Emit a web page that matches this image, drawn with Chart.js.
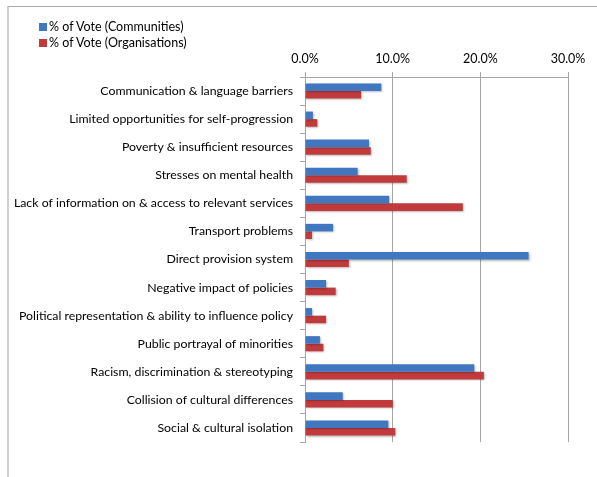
<!DOCTYPE html>
<html>
<head>
<meta charset="utf-8">
<script src="https://cdn.jsdelivr.net/npm/chart.js@4.4.1/dist/chart.umd.min.js"></script>
<style>
  html, body { margin: 0; padding: 0; background: #fff; }
  #wrap { position: relative; width: 597px; height: 477px; overflow: hidden; }
  #frame { position: absolute; left: 7px; top: 6px; right: -2px; bottom: -2px;
           border-left: 2px solid #cfcfcf; border-top: 1px solid #a9a9a9; }
  canvas { position: absolute; left: 0; top: 0; }
  #legend { position: absolute; left: 39px; top: 19px; font-family: Lato, sans-serif;
            font-size: 12.5px; color: #000; line-height: 16px; }
  #legend .item { display: flex; align-items: center; white-space: nowrap; }
  #legend .box { width: 8px; height: 8px; margin-right: 2px; display: inline-block; }
</style>
</head>
<body>
<div id="wrap">
  <div id="frame"></div>
  <canvas id="chart" width="597" height="477"></canvas>
  <div id="legend"></div>
</div>
<script>
const categories = [
  'Communication & language barriers',
  'Limited opportunities for self-progression',
  'Poverty & insufficient resources',
  'Stresses on mental health',
  'Lack of information on & access to relevant services',
  'Transport problems',
  'Direct provision system',
  'Negative impact of policies',
  'Political representation & ability to influence policy',
  'Public portrayal of minorities',
  'Racism, discrimination & stereotyping',
  'Collision of cultural differences',
  'Social & cultural isolation'
];
const seriesNames = ['% of Vote (Communities)', '% of Vote (Organisations)'];
const communities   = [8.7, 0.9, 7.3, 6.0, 9.6, 3.2, 25.5, 2.4, 0.8, 1.7, 19.3, 4.3, 9.5];
const organisations = [6.4, 1.4, 7.5, 11.6, 18.0, 0.8, 5.0, 3.5, 2.4, 2.1, 20.4, 10.0, 10.3];
const xTicks = [0, 10, 20, 30];

const GRID = '#a6a6a6';

// soft drop shadow under the bars
const barShadow = {
  id: 'barShadow',
  beforeDatasetsDraw(chart) {
    const c = chart.ctx;
    c.save();
    c.shadowColor = 'rgba(0,0,0,0.28)';
    c.shadowBlur = 2;
    c.shadowOffsetX = 1;
    c.shadowOffsetY = 1;
  },
  afterDatasetsDraw(chart) { chart.ctx.restore(); }
};

const chart = new Chart(document.getElementById('chart'), {
  type: 'bar',
  data: {
    labels: categories,
    datasets: [
      { label: seriesNames[0], data: communities, backgroundColor: '#4177c1' },
      { label: seriesNames[1], data: organisations, backgroundColor: '#c13b3d' }
    ]
  },
  options: {
    indexAxis: 'y',
    responsive: false,
    animation: false,
    layout: { padding: { left: 0, top: 0, right: 29, bottom: 35 } },
    datasets: { bar: { categoryPercentage: 0.54, barPercentage: 1.0 } },
    plugins: { legend: { display: false }, tooltip: { enabled: false } },
    scales: {
      x: {
        position: 'top',
        min: 0, max: 30,
        afterBuildTicks(scale) { scale.ticks = xTicks.map(v => ({ value: v })); },
        ticks: {
          font: { family: 'Lato, sans-serif', size: 12.5 }, color: '#000', padding: 6,
          callback: v => v.toFixed(1) + '%'
        },
        grid: { color: GRID, tickLength: 5, drawTicks: true },
        border: { color: GRID },
        afterFit(scale) { scale.height = 77; }
      },
      y: {
        ticks: { font: { family: 'Lato, sans-serif', size: 12.3 }, color: '#000', padding: 7, autoSkip: false },
        grid: { offset: true, drawOnChartArea: false, tickLength: 5, color: GRID },
        border: { color: GRID },
        afterFit(scale) { scale.width = 305; }
      }
    }
  },
  plugins: [barShadow]
});

// legend built from the chart's datasets
const legendEl = document.getElementById('legend');
chart.data.datasets.forEach(ds => {
  const item = document.createElement('div');
  item.className = 'item';
  const box = document.createElement('span');
  box.className = 'box';
  box.style.background = ds.backgroundColor;
  item.appendChild(box);
  item.appendChild(document.createTextNode(ds.label));
  legendEl.appendChild(item);
});
</script>
</body>
</html>
